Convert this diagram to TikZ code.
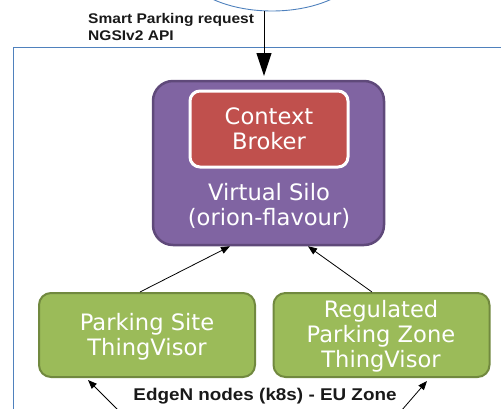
\documentclass[tikz,border=0pt]{standalone}
\usepackage{fontspec}
\usetikzlibrary{arrows.meta,shapes.geometric,calc}
\newfontfamily\boxfont{DejaVu Sans}
\newfontfamily\lblfont[FakeStretch=1.11]{Liberation Sans}
\definecolor{zoneblue}{HTML}{4F81BD}
\definecolor{silofill}{HTML}{8064A2}
\definecolor{silodraw}{HTML}{5F497A}
\definecolor{cbfill}{HTML}{C0504D}
\definecolor{tvfill}{HTML}{9BBB59}
\definecolor{tvdraw}{HTML}{71893F}
\tikzset{
  boxtext/.style={text=white, align=center, inner sep=0pt, font={\boxfont\fontsize{22.6}{25}\selectfont}},
  tvbox/.style={draw=tvdraw, fill=tvfill, line width=2pt, rounded corners=12pt, minimum width=216pt, minimum height=84pt, inner sep=0pt},
  thinarrow/.style={draw=black, line width=0.8pt, -{Triangle[width=7pt,length=9pt]}},
  bigarrow/.style={draw=black, line width=1pt, -{Triangle[width=15pt,length=23pt]}},
  boldlbl/.style={inner sep=0pt, text=black!90, font={\lblfont\bfseries\fontsize{14}{17}\selectfont}}
}
\begin{document}
\begin{tikzpicture}[x=1pt,y=-1pt]
\useasboundingbox (0,0) rectangle (501,408);
\clip (0,0) rectangle (501,408);
% request ellipse (cut off at top)
\node[ellipse, draw=zoneblue, line width=0.9pt, minimum width=184pt, minimum height=100pt] (req) at (272,-39) {};
% EdgeN zone frame
\draw[zoneblue, line width=1pt] (13,47) rectangle (530,440);
% Virtual Silo
\node[draw=silodraw, fill=silofill, line width=2.5pt, rounded corners=20pt, minimum width=231pt, minimum height=164pt] (silo) at (268.5,163) {};
\node[draw=white, fill=cbfill, line width=3pt, rounded corners=10pt, minimum width=158pt, minimum height=76pt, inner sep=0pt] (cb) at (269,129) {};
\node[boxtext] (cbl) at (cb.center) {Context\\Broker};
\node[boxtext] (silol) at (269,205.5) {Virtual Silo\\(orion-flavour)};
% ThingVisors
\node[tvbox] (ps) at (147,335) {};
\node[boxtext] (psl) at (147,336.5) {Parking Site\\ThingVisor};
\node[tvbox] (rz) at (381.5,335) {};
\node[boxtext] (rzl) at (381,336.3) {Regulated\\Parking Zone\\ThingVisor};
% labels
\node[boldlbl, anchor=base west, align=left] (reql) at (88,40) {Smart Parking request\\NGSIv2 API};
\node[boldlbl, anchor=base, font={\lblfont\bfseries\fontsize{17}{20}\selectfont}] (zonel) at (265,400) {EdgeN nodes (k8s) - EU Zone};
% connectors
\coordinate (in) at (264,76);
\draw[bigarrow] (req.south -| in) -- (in);
\draw[thinarrow] ([xshift=-7pt]ps.north) -- ([xshift=-38.5pt]silo.south);
\draw[thinarrow] ([xshift=-9.5pt]rz.north) -- ([xshift=39.5pt]silo.south);
\coordinate (bl) at (126,418);
\coordinate (br) at (395,418);
\draw[thinarrow] (bl) -- ([xshift=-59pt,yshift=-2pt]ps.south);
\draw[thinarrow] (br) -- ([xshift=45.5pt,yshift=-3pt]rz.south);
\end{tikzpicture}
\end{document}
